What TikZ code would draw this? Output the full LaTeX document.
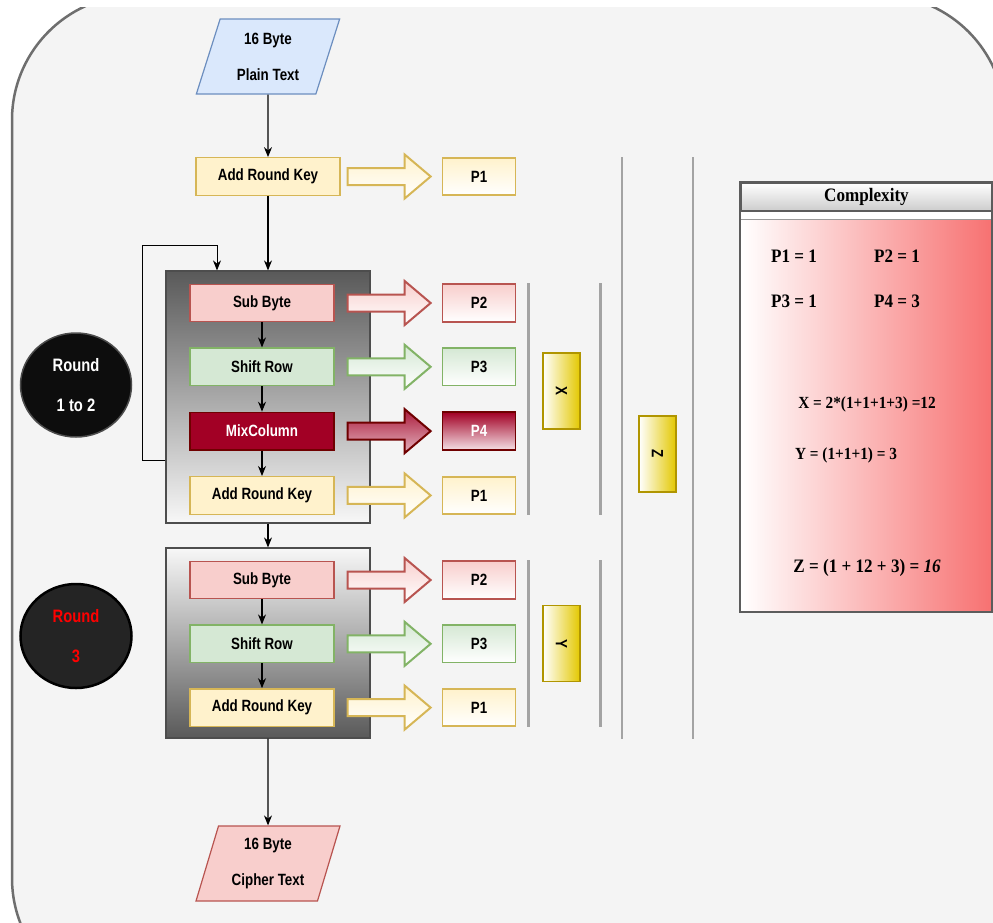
\documentclass[tikz,border=0pt]{standalone}
\usepackage{fontspec}
\setmainfont{Liberation Sans}
\newfontfamily\diofont[FakeStretch=0.82]{Liberation Sans}
\newfontfamily\serfont[FakeStretch=0.9]{Liberation Serif}
\usepackage{xcolor}
\usepackage{tikz}
\usetikzlibrary{arrows.meta, positioning, shapes.geometric, calc}

\definecolor{bgfill}{HTML}{F4F4F4}
\definecolor{frameline}{HTML}{6E6E6E}
\definecolor{plainfill}{HTML}{DAE8FC}
\definecolor{plainline}{HTML}{6C8EBF}
\definecolor{keyfill}{HTML}{FFF2CC}
\definecolor{keyline}{HTML}{D6B656}
\definecolor{subfill}{HTML}{F8CECC}
\definecolor{subline}{HTML}{B85450}
\definecolor{shiftfill}{HTML}{D5E8D4}
\definecolor{shiftline}{HTML}{82B366}
\definecolor{mixfill}{HTML}{A20025}
\definecolor{mixline}{HTML}{6F0000}
\definecolor{boxline}{HTML}{4D4D4D}
\definecolor{darkgray}{HTML}{595959}
\definecolor{sepgray}{HTML}{A3A3A3}
\definecolor{tagfill}{HTML}{E3C800}
\definecolor{tagline}{HTML}{B09500}
\definecolor{cxline}{HTML}{5C5C5C}
\definecolor{cxred}{HTML}{F77171}

% block arrow between an operation box and its P box
\newcommand{\bigarrow}[3]{%
  \draw[#1] ($(#2.east -| #3.west)+(-94,-8.5)$) -- ++(57,0) -- ++(0,-13.5)
    -- ++(26,22) -- ++(-26,22) -- ++(0,-13.5) -- ++(-57,0) -- cycle;}

\begin{document}
\begin{tikzpicture}[x=1pt, y=-1pt,
    every node/.style={font=\diofont\bfseries\fontsize{16.3}{36}\selectfont, inner sep=0pt},
    opbox/.style={rectangle, draw, line width=1.3, minimum width=144, minimum height=37.5},
    keyop/.style={opbox, fill=keyfill, draw=keyline},
    subop/.style={opbox, fill=subfill, draw=subline},
    shiftop/.style={opbox, fill=shiftfill, draw=shiftline},
    mixop/.style={opbox, fill=mixfill, draw=mixline, text=white},
    pnode/.style={rectangle, line width=1.8, minimum width=73, minimum height=37.5, bottom color=white},
    roundbox/.style={rectangle, draw=boxline, line width=1.2, minimum width=204},
    iotext/.style={trapezium, trapezium left angle=72, trapezium right angle=108,
                   trapezium stretches=true, line width=1.2, minimum height=75,
                   minimum width=144, align=center},
    rndlbl/.style={ellipse, minimum width=111, minimum height=104, align=center,
                   font=\diofont\bfseries\fontsize{18}{40}\selectfont},
    flow/.style={-{Stealth[length=10pt, width=8pt]}, line width=1.1},
    blk/.style={line width=2, line join=miter},
    sepline/.style={draw=sepgray, line width=2.6},
    tagbox/.style={rectangle, draw=tagline, line width=1.8, left color=white,
                   right color=tagfill, minimum width=37, minimum height=76},
    cxtext/.style={font=\serfont\bfseries\fontsize{19}{22}\selectfont},
    cxsmall/.style={font=\serfont\bfseries\fontsize{17}{20}\selectfont},
  ]
    \useasboundingbox (0,0) rectangle (993,922);
    \begin{scope}
      \clip (0,7) rectangle (993,922);
      \draw[draw=frameline, fill=bgfill, line width=2.5, rounded corners=125pt]
        (12,-5) rectangle (1005,1003);
    \end{scope}

    \node[iotext, fill=plainfill, draw=plainline] (plain) at (268,56.5) {16 Byte\\Plain Text};
    \node[keyop] (ark0) at (268,176.5) {Add Round Key};
    \node[pnode, top color=keyfill, draw=keyline, right=101pt of ark0] (p1a) {P1};

    % round 1 to 2
    \node[roundbox, minimum height=252, top color=darkgray, bottom color=white!97!black] (rb1) at (268,397) {};
    \node[subop] (sb1) at (262,303) {Sub Byte};
    \node[shiftop, below=25pt of sb1] (sr1) {Shift Row};
    \node[mixop, below=25.5pt of sr1] (mc1) {MixColumn};
    \node[keyop, below=25.5pt of mc1] (ak1) {Add Round Key};
    \node[pnode, top color=subfill, draw=subline, right=107pt of sb1] (p2a) {P2};
    \node[pnode, top color=shiftfill, draw=shiftline, right=107pt of sr1] (p3a) {P3};
    \node[pnode, top color=mixfill, bottom color=mixfill!12, draw=mixline, text=white, right=107pt of mc1] (p4a) {P4};
    \node[pnode, top color=keyfill, draw=keyline, right=107pt of ak1] (p1b) {P1};

    % round 3
    \node[roundbox, minimum height=190, top color=white!97!black, bottom color=darkgray] (rb2) at (268,643) {};
    \node[subop] (sb2) at (262,580) {Sub Byte};
    \node[shiftop, below=25pt of sb2] (sr2) {Shift Row};
    \node[keyop, below=25pt of sr2] (ak2) {Add Round Key};
    \node[pnode, top color=subfill, draw=subline, right=107pt of sb2] (p2b) {P2};
    \node[pnode, top color=shiftfill, draw=shiftline, right=107pt of sr2] (p3b) {P3};
    \node[pnode, top color=keyfill, draw=keyline, right=107pt of ak2] (p1c) {P1};

    \node[iotext, fill=subfill, draw=subline] (cipher) at (268,863.5) {16 Byte\\Cipher Text};

    \node[rndlbl, fill=black!95, draw=black!70, line width=1.5, text=white] (r12) at (76,385) {Round\\1 to 2};
    \node[rndlbl, fill=black!86, draw=black, line width=2.5, text=red] (r3) at (76,636) {Round\\3};

    \draw[flow] (plain) -- (ark0);
    \draw[flow] (ark0) -- (rb1);
    \draw[flow] (sb1) -- (sr1);
    \draw[flow] (sr1) -- (mc1);
    \draw[flow] (mc1) -- (ak1);
    \draw[flow] (rb1) -- (rb2);
    \draw[flow] (sb2) -- (sr2);
    \draw[flow] (sr2) -- (ak2);
    \draw[flow] (rb2) -- (cipher);
    \draw[flow, line width=0.9] ($(rb1.south west)+(0,-63)$) -- ++(-23,0)
      |- ($(rb1.north)+(-51,-25)$) -- ($(rb1.north)+(-51,0)$);

    \bigarrow{blk, draw=keyline, top color=keyfill, bottom color=white}{ark0}{p1a}
    \bigarrow{blk, draw=subline, top color=subfill, bottom color=white}{sb1}{p2a}
    \bigarrow{blk, draw=shiftline, top color=shiftfill, bottom color=white}{sr1}{p3a}
    \bigarrow{blk, draw=mixline, top color=mixfill!90, bottom color=mixfill!30}{mc1}{p4a}
    \bigarrow{blk, draw=keyline, top color=keyfill, bottom color=white}{ak1}{p1b}
    \bigarrow{blk, draw=subline, top color=subfill, bottom color=white}{sb2}{p2b}
    \bigarrow{blk, draw=shiftline, top color=shiftfill, bottom color=white}{sr2}{p3b}
    \bigarrow{blk, draw=keyline, top color=keyfill, bottom color=white}{ak2}{p1c}

    \draw[sepline] ([xshift=12]p2a.north east) -- ([xshift=12]p1b.south east);
    \draw[sepline] ([xshift=84]p2a.north east) -- ([xshift=84]p1b.south east);
    \draw[sepline] ([xshift=12]p2b.north east) -- ([xshift=12]p1c.south east);
    \draw[sepline] ([xshift=84]p2b.north east) -- ([xshift=84]p1c.south east);
    \draw[sepline] (622,157) -- (622,739);
    \draw[sepline] (693,157) -- (693,739);

    \node[tagbox, label={[rotate=-90]center:X}] (tagx) at (561.5,391) {};
    \node[tagbox, label={[rotate=-90]center:Y}] (tagy) at (561.5,643.5) {};
    \node[tagbox, label={[rotate=-90]center:Z}] (tagz) at (657.5,454) {};

    % complexity table
    \node[rectangle, minimum width=251, minimum height=392, left color=white, right color=cxred] (cxbody) at (866.5,416) {};
    \node[rectangle, minimum width=251, minimum height=28, top color=white, bottom color=black!20,
          draw=cxline, line width=1.5, cxtext] (cxhead) at (866.5,197) {Complexity};
    \fill[white] (cxhead.south west) rectangle (cxbody.north east);
    \draw[black!40, line width=1] (cxbody.north west) -- (cxbody.north east);
    \draw[cxline, line width=2.2] (cxhead.north west) rectangle (cxbody.south east);
    \node[cxtext] (cp1) at (794,256) {P1 = 1};
    \node[cxtext] (cp2) at (897,256) {P2 = 1};
    \node[cxtext] (cp3) at (794,301) {P3 = 1};
    \node[cxtext] (cp4) at (897,301) {P4 = 3};
    \node[cxsmall] (cxx) at (867,404) {X = 2*(1+1+1+3) =12};
    \node[cxsmall] (cxy) at (846,455) {Y = (1+1+1) = 3};
    \node[cxtext] (cxz) at (867,568) {Z = (1 + 12 + 3) = \textit{16}};
  \end{tikzpicture}
\end{document}
